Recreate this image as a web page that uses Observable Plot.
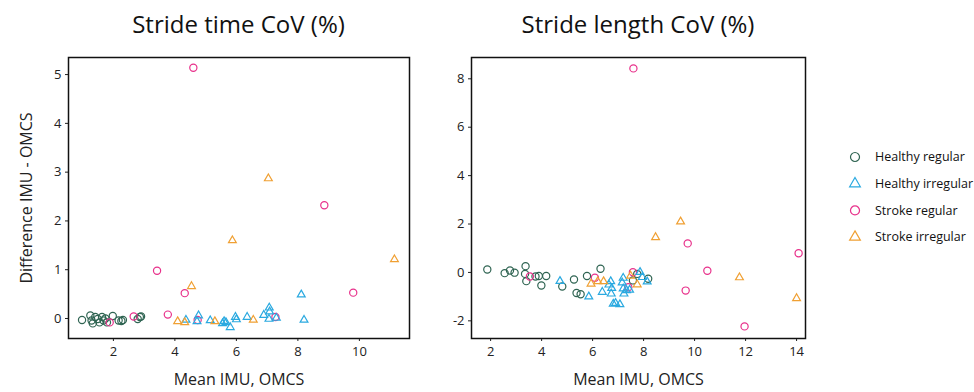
<!DOCTYPE html>
<html>
<head>
<meta charset="utf-8">
<script src="https://cdn.jsdelivr.net/npm/d3@7"></script>
<script src="https://cdn.jsdelivr.net/npm/@observablehq/plot@0.6"></script>
<style>
  html, body { margin: 0; padding: 0; background: #fff; }
  body { width: 974px; height: 392px; position: relative; overflow: hidden; font-family: "Open Sans", "Noto Sans", sans-serif; }
  .title { position: absolute; top: 7px; font-size: 24px; color: #111; text-align: center; white-space: nowrap; }
  #p1, #p2 { position: absolute; top: 50px; }
  #p1 { left: 0; }
  #p2 { left: 410px; }
  #legend { position: absolute; left: 845px; top: 144px; }
</style>
</head>
<body>
<div class="title" id="t1" style="left:68px;width:341px;">Stride time CoV (%)</div>
<div class="title" id="t2" style="left:471px;width:334px;">Stride length CoV (%)</div>
<div id="p1"></div>
<div id="p2"></div>
<div id="legend"></div>
<script>
// Groups
const groups = ["Healthy regular", "Healthy irregular", "Stroke regular", "Stroke irregular"];
const groupColors = ["#2f6452", "#2aa9e0", "#e8318b", "#f0a033"];
const groupSymbols = ["circle", "triangle", "circle", "triangle"];

// Stride time CoV (%): [mean, difference]
const stHealthyRegular = [[0.98,-0.03],[1.25,0.06],[1.29,-0.04],[1.33,-0.1],[1.41,0.03],[1.49,-0.01],[1.55,-0.08],[1.63,0.03],[1.68,-0.04],[1.74,0.0],[1.79,-0.08],[1.98,0.05],[2.17,-0.04],[2.26,-0.05],[2.31,-0.03],[2.79,-0.01],[2.86,0.03],[2.9,0.04]];
const stHealthyIrregular = [[4.36,-0.03],[4.77,0.06],[4.72,-0.06],[5.15,-0.04],[5.55,-0.1],[5.6,-0.06],[5.66,-0.08],[5.8,-0.18],[5.97,0.03],[6.0,-0.02],[6.35,0.03],[6.89,0.07],[7.07,0.22],[7.08,0.14],[7.06,-0.01],[7.3,0.01],[8.11,0.49],[8.2,-0.03]];
const stStrokeRegular = [[1.88,-0.08],[2.66,0.04],[3.42,0.98],[3.77,0.08],[4.32,0.52],[4.6,5.14],[4.74,-0.03],[7.27,0.03],[8.86,2.32],[9.8,0.53]];
const stStrokeIrregular = [[4.09,-0.06],[4.32,-0.08],[4.54,0.66],[5.3,-0.06],[5.87,1.6],[6.55,-0.03],[7.04,2.87],[11.14,1.21]];

// Stride length CoV (%): [mean, difference]
const slHealthyRegular = [[1.87,0.12],[2.55,-0.03],[2.76,0.08],[2.94,-0.01],[3.37,0.26],[3.35,-0.06],[3.4,-0.36],[3.76,-0.17],[3.89,-0.15],[3.99,-0.54],[4.18,-0.15],[4.81,-0.58],[5.27,-0.29],[5.37,-0.85],[5.53,-0.9],[5.78,-0.15],[6.31,0.15],[7.58,-0.33],[7.75,-0.06],[8.18,-0.26]];
const slHealthyIrregular = [[4.72,-0.36],[5.85,-1.0],[6.38,-0.81],[6.64,-0.51],[6.71,-0.37],[6.75,-0.65],[6.73,-0.88],[6.81,-1.3],[6.9,-1.27],[7.07,-1.32],[7.2,-0.23],[7.16,-0.42],[7.2,-0.67],[7.23,-0.88],[7.33,-0.74],[7.45,-0.72],[7.86,0.01],[7.95,-0.2],[8.14,-0.38]];
const slStrokeRegular = [[3.54,-0.17],[6.09,-0.22],[7.4,-0.61],[7.58,0.01],[7.6,8.43],[9.73,1.2],[9.65,-0.75],[10.5,0.07],[11.96,-2.23],[14.08,0.79]];
const slStrokeIrregular = [[5.94,-0.47],[6.2,-0.37],[6.43,-0.37],[7.49,-0.14],[7.75,-0.5],[8.47,1.45],[9.45,2.1],[11.76,-0.21],[14.0,-1.07]];

const xTicksST = [2, 4, 6, 8, 10];
const yTicksST = [0, 1, 2, 3, 4, 5];
const xTicksSL = [2, 4, 6, 8, 10, 12, 14];
const yTicksSL = [-2, 0, 2, 4, 6, 8];

function toRows(series) {
  const rows = [];
  series.forEach((arr, i) => arr.forEach(([x, y]) => rows.push({x, y, group: groups[i], sym: groupSymbols[i]})));
  return rows;
}
const stRows = toRows([stHealthyRegular, stHealthyIrregular, stStrokeRegular, stStrokeIrregular]);
const slRows = toRows([slHealthyRegular, slHealthyIrregular, slStrokeRegular, slStrokeIrregular]);

const font = "'Open Sans', 'Noto Sans', sans-serif";
const fmt = d => String(d);

function panel({rows, width, marginLeft, marginRight, xDomain, yDomain, xTicks, yTicks, yLabel}) {
  return Plot.plot({
    width, height: 342,
    marginLeft, marginRight, marginTop: 7, marginBottom: 54,
    style: {fontFamily: font, fontSize: "13px", color: "#222", background: "transparent"},
    x: {domain: xDomain},
    y: {domain: yDomain},
    color: {domain: groups, range: groupColors},
    symbol: {domain: groups, range: groupSymbols},
    marks: [
      Plot.axisX({ticks: xTicks, tickFormat: fmt, tickSize: 3, tickPadding: 5, label: "Mean IMU, OMCS", labelAnchor: "center", labelArrow: "none", labelOffset: 46, fontSize: 13}),
      Plot.axisY({ticks: yTicks, tickFormat: fmt, tickSize: 3, tickPadding: 4, label: yLabel, labelAnchor: "center", labelArrow: "none", labelOffset: 48, fontSize: 13}),
      Plot.dot(rows.filter(d => d.sym === "circle"), {x: "x", y: "y", stroke: "group", symbol: "group", r: 3.6, strokeWidth: 1.2, fill: "none"}),
      Plot.dot(rows.filter(d => d.sym === "triangle"), {x: "x", y: "y", stroke: "group", symbol: "group", r: 2.9, strokeWidth: 1.2, fill: "none"}),
      Plot.frame({stroke: "#111", strokeWidth: 1.5})
    ]
  });
}

const p1 = panel({rows: stRows, width: 430, marginLeft: 68, marginRight: 21,
  xDomain: [0.54, 11.63], yDomain: [-0.41, 5.35], xTicks: xTicksST, yTicks: yTicksST, yLabel: "Difference IMU - OMCS"});
const p2 = panel({rows: slRows, width: 420, marginLeft: 61, marginRight: 25,
  xDomain: [1.25, 14.35], yDomain: [-2.73, 8.88], xTicks: xTicksSL, yTicks: yTicksSL, yLabel: null});
document.getElementById("p1").append(p1);
document.getElementById("p2").append(p2);

// larger axis titles
for (const svg of [p1, p2]) {
  svg.querySelectorAll("g[aria-label='x-axis label'] text, g[aria-label='y-axis label'] text").forEach(t => {
    t.setAttribute("font-size", "16px");
    t.style.fontSize = "16px";
  });
}

// Legend
const lg = d3.select("#legend").append("svg").attr("width", 129).attr("height", 110)
  .style("font-family", font);
groups.forEach((g, i) => {
  const row = lg.append("g").attr("transform", `translate(10,${13 + i * 26.7})`);
  row.append("path")
    .attr("d", d3.symbol(groupSymbols[i] === "circle" ? d3.symbolCircle : d3.symbolTriangle, groupSymbols[i] === "circle" ? 64 : 50)())
    .attr("fill", "none").attr("stroke", groupColors[i]).attr("stroke-width", 1.2);
  row.append("text").attr("x", 20).attr("dy", "0.35em").attr("font-size", 12.5).attr("fill", "#111").text(g);
});
</script>
</body>
</html>
